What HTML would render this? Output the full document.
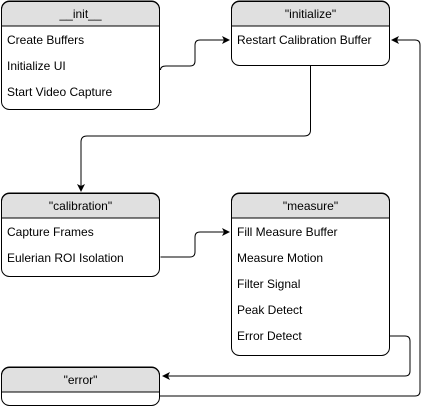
<!DOCTYPE html>
<html><head><style>
html,body{margin:0;padding:0;background:#fff;width:431px;height:407px;overflow:hidden}
svg text{font-family:"Liberation Sans",Arial,sans-serif;font-size:12px;fill:#000}
</style></head><body>
<svg width="431" height="407" viewBox="0 0 431 407" xmlns="http://www.w3.org/2000/svg">
<defs>
<marker id="a" markerWidth="8" markerHeight="8" refX="7" refY="4" orient="auto" markerUnits="userSpaceOnUse">
<path d="M0,0 L8,4 L0,8 L2,4 Z" fill="#000"/></marker>
</defs>
<g stroke="#000" stroke-width="1" fill="none">
<!-- boxes -->
<g>
<path d="M1.5,26 V9 a8,8 0 0 1 8,-8 H151.5 a8,8 0 0 1 8,8 V26 Z" fill="#e0e0e0"/>
<rect x="1.5" y="1.5" width="158" height="108" rx="8"/>
<line x1="1.5" y1="26" x2="159.5" y2="26"/>
<path d="M231.5,26 V9 a8,8 0 0 1 8,-8 H381.5 a8,8 0 0 1 8,8 V26 Z" fill="#e0e0e0"/>
<rect x="231.5" y="1.5" width="158" height="64" rx="8"/>
<line x1="231.5" y1="26" x2="389.5" y2="26"/>
<path d="M1.5,218 V201 a8,8 0 0 1 8,-8 H151.5 a8,8 0 0 1 8,8 V218 Z" fill="#e0e0e0"/>
<rect x="1.5" y="193.5" width="158" height="83" rx="8"/>
<line x1="1.5" y1="218" x2="159.5" y2="218"/>
<path d="M231.5,218 V201 a8,8 0 0 1 8,-8 H381.5 a8,8 0 0 1 8,8 V218 Z" fill="#e0e0e0"/>
<rect x="231.5" y="193.5" width="158" height="162" rx="8"/>
<line x1="231.5" y1="218" x2="389.5" y2="218"/>
<path d="M1.5,392 V375 a8,8 0 0 1 8,-8 H151.5 a8,8 0 0 1 8,8 V392 Z" fill="#e0e0e0"/>
<rect x="1.5" y="367.5" width="158" height="38" rx="8"/>
<line x1="1.5" y1="392" x2="159.5" y2="392"/>
</g>
<!-- connectors -->
<path d="M160.5,70 Q160.5,66 166,66 H190 Q195,66 195,61 V45 Q195,40 200,40 H229" marker-end="url(#a)"/>
<path d="M160.5,257 H190 Q195,257 195,252 V237 Q195,232 200,232 H229" marker-end="url(#a)"/>
<path d="M310.5,66 V130 Q310.5,136 304,136 H87 Q81,136 81,142 V191" marker-end="url(#a)"/>
<path d="M390,336 H405 Q410,336 410,341 V371 Q410,376 405,376 H163" marker-end="url(#a)"/>
<path d="M160,396 H415 Q420,396 420,391 V45 Q420,40 415,40 H392" marker-end="url(#a)"/>
</g>
<g>
<text x="80.5" y="18" text-anchor="middle">__init__</text>
<text x="310.5" y="18" text-anchor="middle">"initialize"</text>
<text x="80.5" y="210" text-anchor="middle">"calibration"</text>
<text x="310.5" y="210" text-anchor="middle">"measure"</text>
<text x="80.5" y="384" text-anchor="middle">"error"</text>
<text x="7" y="44">Create Buffers</text>
<text x="7" y="70">Initialize UI</text>
<text x="7" y="96">Start Video Capture</text>
<text x="237" y="44">Restart Calibration Buffer</text>
<text x="7" y="236">Capture Frames</text>
<text x="7" y="262">Eulerian ROI Isolation</text>
<text x="237" y="236">Fill Measure Buffer</text>
<text x="237" y="262">Measure Motion</text>
<text x="237" y="288">Filter Signal</text>
<text x="237" y="314">Peak Detect</text>
<text x="237" y="340">Error Detect</text>
</g>
</svg>
</body></html>
